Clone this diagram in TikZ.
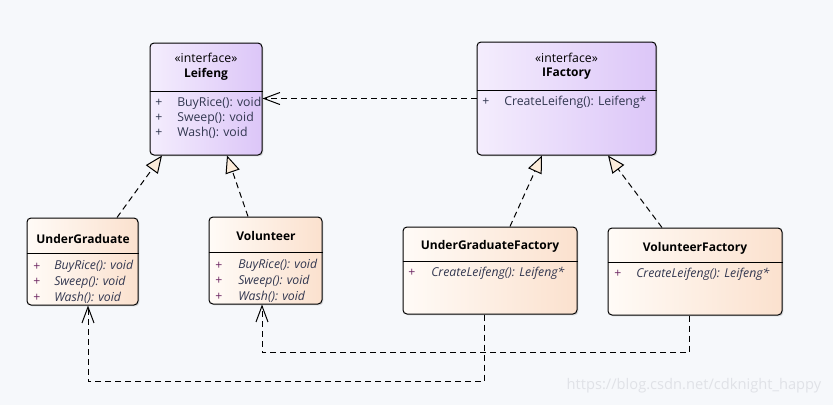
\documentclass[tikz,border=0pt]{standalone}
\usepackage{fontspec}
\setmainfont{Open Sans}
\usetikzlibrary{arrows.meta,positioning,shadows}
\definecolor{bgcol}{RGB}{246,248,251}
\definecolor{ifleft}{RGB}{244,237,253}
\definecolor{ifright}{RGB}{220,198,248}
\definecolor{clleft}{RGB}{255,251,247}
\definecolor{clright}{RGB}{251,225,206}
\definecolor{tipfill}{RGB}{252,236,218}
\definecolor{membercol}{RGB}{50,55,80}
\definecolor{pluscol}{RGB}{110,40,100}
\definecolor{markcol}{RGB}{224,226,231}
\tikzset{
  umlbox/.style={draw, line width=0.75pt, rounded corners=3pt, inner sep=0pt,
    drop shadow={shadow xshift=1pt, shadow yshift=-1pt, opacity=0.25}},
  ifacebox/.style={umlbox, left color=ifleft, right color=ifright},
  classbox/.style={umlbox, left color=clleft, right color=clright},
  txt/.style={inner sep=0pt, font=\fontsize{9.2}{11}\selectfont},
  title/.style={txt, font=\fontsize{9}{11}\selectfont\bfseries},
  member/.style={txt, anchor=west, text=membercol},
  opmember/.style={member, font=\fontsize{9.2}{11}\selectfont\itshape},
  plus/.style={txt, anchor=west, text=pluscol},
  sepline/.style={line width=0.75pt},
  dashline/.style={line width=0.75pt, dash pattern=on 4.5pt off 3pt},
  realize/.style={dashline, -{Triangle[length=13pt,width=11pt,fill=tipfill]}},
  depend/.style={dashline, -{Straight Barb[length=12pt,width=9pt]}},
}

\begin{document}
\begin{tikzpicture}[x=0.75pt, y=-0.75pt]
  \useasboundingbox[fill=bgcol] (0,0) rectangle (833,405);

  % interfaces
  \node[ifacebox, minimum width=84pt, minimum height=84pt] (leifeng) at (206,99) {};
  \draw[sepline] (leifeng.west |- 0,91) -- (leifeng.east |- 0,91);
  \node[txt] (leifeng-st) at (206,58) {«interface»};
  \node[title] (leifeng-nm) at (206,74) {Leifeng};
  \foreach \m [count=\i] in {BuyRice(): void, Sweep(): void, Wash(): void} {
    \node[plus, text=membercol] (leifeng-p\i) at (155,88+15*\i) {+};
    \node[member] (leifeng-m\i) at (177,88+15*\i) {\m};
  }

  \node[ifacebox, minimum width=134.25pt, minimum height=84.75pt] (ifactory) at (566.5,98.5) {};
  \draw[sepline] (ifactory.west |- 0,90) -- (ifactory.east |- 0,90);
  \node[txt] (ifactory-st) at (566.5,58) {«interface»};
  \node[title] (ifactory-nm) at (566.5,74) {IFactory};
  \node[plus, text=membercol] (ifactory-p1) at (482,102) {+};
  \node[member] (ifactory-m1) at (504,102) {CreateLeifeng(): Leifeng*};

  % classes
  \node[classbox, minimum width=83.25pt, minimum height=65.25pt] (undergrad) at (82.5,261.5) {};
  \draw[sepline] (undergrad.west |- 0,253) -- (undergrad.east |- 0,253);
  \node[title] (undergrad-nm) at (83,239) {UnderGraduate};
  \foreach \m [count=\i] in {BuyRice(): void, Sweep(): void, Wash(): void} {
    \node[plus] (undergrad-p\i) at (33,251+15.5*\i) {+};
    \node[opmember] (undergrad-m\i) at (54,251+15.5*\i) {\m};
  }

  \node[classbox, minimum width=84.75pt, minimum height=65.25pt] (volunteer) at (265.5,260.5) {};
  \draw[sepline] (volunteer.west |- 0,252) -- (volunteer.east |- 0,252);
  \node[title] (volunteer-nm) at (266,236) {Volunteer};
  \foreach \m [count=\i] in {BuyRice(): void, Sweep(): void, Wash(): void} {
    \node[plus] (volunteer-p\i) at (215,250+15.5*\i) {+};
    \node[opmember] (volunteer-m\i) at (238,250+15.5*\i) {\m};
  }

  \node[classbox, minimum width=130.5pt, minimum height=65.25pt] (undergradfac) at (490,270.5) {};
  \draw[sepline] (undergradfac.west |- 0,261) -- (undergradfac.east |- 0,261);
  \node[title] (undergradfac-nm) at (490,246) {UnderGraduateFactory};
  \node[plus] (undergradfac-p1) at (408,273) {+};
  \node[opmember] (undergradfac-m1) at (431,273) {CreateLeifeng(): Leifeng*};

  \node[classbox, minimum width=130.5pt, minimum height=65.25pt] (volunteerfac) at (695,271.5) {};
  \draw[sepline] (volunteerfac.west |- 0,262) -- (volunteerfac.east |- 0,262);
  \node[title] (volunteerfac-nm) at (695,248) {VolunteerFactory};
  \node[plus] (volunteerfac-p1) at (614,274) {+};
  \node[opmember] (volunteerfac-m1) at (636,274) {CreateLeifeng(): Leifeng*};

  % realizations
  \draw[realize] (undergrad.north -| 117,0) -- (leifeng.south -| 162,0);
  \draw[realize] (volunteer.north -| 248,0) -- (leifeng.south -| 227,0);
  \draw[realize] (undergradfac.north -| 510,0) -- (ifactory.south -| 542,0);
  \draw[realize] (volunteerfac.north -| 662,0) -- (ifactory.south -| 608,0);

  % dependencies
  \draw[depend] (ifactory.west) -- (leifeng.east |- ifactory.west);
  \draw[depend] (undergradfac.south -| 484,0) -- ++(0,67) -| (undergrad.south -| 88,0);
  \draw[depend] (volunteerfac.south -| 689,0) -- ++(0,37) -| (volunteer.south -| 262,0);

  \node[txt, text=markcol, font=\fontsize{11}{13}\selectfont] (mark) at (694,386) {https://blog.csdn.net/cdknight\_happy};
\end{tikzpicture}
\end{document}
